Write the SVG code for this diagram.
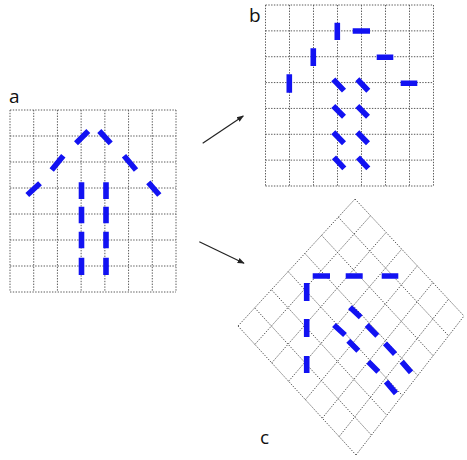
<svg xmlns="http://www.w3.org/2000/svg" width="467" height="460" viewBox="0 0 467 460">
<defs>
<style>
.grid{fill:none;stroke:#5a5a5a;stroke-width:1;stroke-dasharray:1.4 1.4}
.dash{fill:none;stroke:#1212f2;stroke-width:5.6;stroke-linecap:butt}
.conn{fill:none;stroke:#222;stroke-width:1.2}
.lbl{font-family:"Open Sans","Liberation Sans",sans-serif;font-size:19px;fill:#111}
</style>
<marker id="ah" viewBox="0 0 10 10" refX="9" refY="5" markerWidth="7" markerHeight="7" orient="auto" markerUnits="userSpaceOnUse">
<path d="M0,1 L10,5 L0,9 z" fill="#222"/>
</marker>
</defs>
<rect width="467" height="460" fill="#fff"/>
<g id="panel-a">
<text class="lbl" x="9" y="103">a</text>
<path class="grid" d="M10,110V292M33.71,110V292M57.43,110V292M81.14,110V292M104.86,110V292M128.57,110V292M152.29,110V292M176,110V292M10,110H176M10,136H176M10,162H176M10,188H176M10,214H176M10,240H176M10,266H176M10,292H176"/>
<path class="dash" d="M81.5,182.3V199M81.5,206.7V223.3M81.5,231.7V248.3M81.5,257.7V275M106,182.3V199M106,206.7V223.3M106,231.7V248.3M106,257.7V275M27.3,195L40,183.3M51.7,170L63.3,155.7M76,143.3L88.3,131M99.3,131L110.7,143.3M124,155.7L136,170M148.3,182.3L159.3,195"/>
</g>
<g id="panel-b">
<text class="lbl" x="249" y="22">b</text>
<path class="grid" d="M265.5,5V186M289.5,5V186M313.5,5V186M337.5,5V186M361.5,5V186M385.5,5V186M409.5,5V186M433.5,5V186M265.5,5H433.5M265.5,30.86H433.5M265.5,56.71H433.5M265.5,82.57H433.5M265.5,108.43H433.5M265.5,134.29H433.5M265.5,160.14H433.5M265.5,186H433.5"/>
<path class="dash" d="M337.3,22.7V40M313.3,48.3V66M289.3,74.3V92.7M352.7,31H370M376.7,57.3H393.3M400.7,83.3H417.3M333.3,79.3L344,90.7M333.3,106L344,116.7M333.3,132.3L344,143.3M334,157.3L344.3,168.3M357.3,79.3L368.3,90.7M357.3,106L368,116.7M357.3,132.3L368,143.3M358,157.3L368.3,168.3"/>
</g>
<g id="panel-c">
<text class="lbl" x="260" y="444">c</text>
<path class="grid" d="M238,326L355,199M254.86,344.43L370.57,215.71M271.71,362.86L386.14,232.43M288.57,381.29L401.71,249.14M305.43,399.71L417.29,265.86M322.29,418.14L432.86,282.57M339.14,436.57L448.43,299.29M356,455L464,316M238,326L356,455M254.71,307.86L371.43,435.14M271.43,289.71L386.86,415.29M288.14,271.57L402.29,395.43M304.86,253.43L417.71,375.57M321.57,235.29L433.14,355.71M338.29,217.14L448.57,335.86M355,199L464,316"/>
<path class="dash" d="M312.7,276H330M345.7,276H362.7M381.7,276H398.3M306.7,283V301M306.7,319V337M306.7,356V373M350,307.3L360.7,317.3M366.7,325L377.3,335.7M385,343.3L395,354M401.7,361.7L411,372.3M334,325L345,335M348.3,340.7L358.3,350.7M368.3,361.7L378.3,371.7M386,381.7L396,393.3"/>
</g>
<g id="connectors">
<line class="conn" x1="202.7" y1="143.3" x2="243.3" y2="116" marker-end="url(#ah)"/>
<line class="conn" x1="199.3" y1="241.7" x2="244" y2="263.3" marker-end="url(#ah)"/>
</g>
</svg>
